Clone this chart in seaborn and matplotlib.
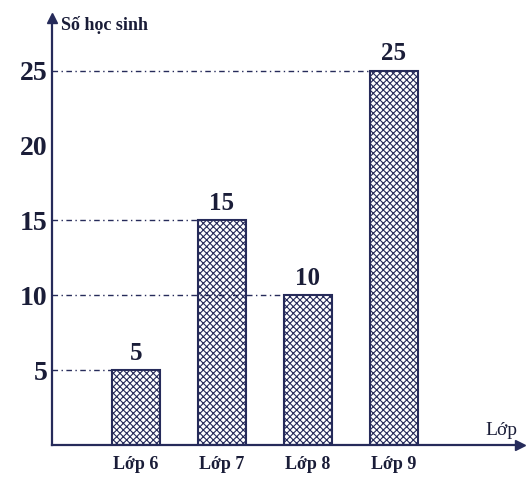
import pandas as pd
import matplotlib
matplotlib.use('Agg')
import matplotlib.pyplot as plt
import seaborn as sns

# dữ liệu
lop = ['Lớp 6', 'Lớp 7', 'Lớp 8', 'Lớp 9']
so_hoc_sinh = [5, 15, 10, 25]
y_ticks = [5, 10, 15, 20, 25]

df = pd.DataFrame({'Lop': lop, 'SoHS': so_hoc_sinh})

sns.set_style('white')
plt.rcParams['font.family'] = ['Liberation Serif', 'DejaVu Serif']
plt.rcParams['hatch.linewidth'] = 0.8

mau = '#262b5a'
chu = '#1a1d38'
bar_w = 0.55

fig = plt.figure(figsize=(5.3, 4.79), dpi=100)
ax = fig.add_axes([0.098, 0.071, 0.883, 0.891])

sns.barplot(data=df, x='Lop', y='SoHS', color='white', width=bar_w,
            edgecolor=mau, linewidth=1.5, ax=ax)
for p in ax.patches:
    p.set_hatch('xxxxx')

ax.set_xlim(-0.977, 4.465)
ax.set_ylim(0, 28.5)

# đường gióng nét chấm gạch
for i, v in enumerate(so_hoc_sinh):
    ax.hlines(v, ax.get_xlim()[0], i - bar_w / 2, colors=mau,
              linestyles=(0, (4, 2.5, 1, 2.5)), linewidth=1.0, zorder=3)
    ax.text(i, v + 0.35, str(v), ha='center', va='bottom', fontsize=18,
            fontweight='bold', color=chu)

# trục
sns.despine(ax=ax, top=True, right=True)
for s in ['left', 'bottom']:
    ax.spines[s].set_color(mau)
    ax.spines[s].set_linewidth(1.6)
ax.plot(1, 0, '>', color=mau, markersize=7, transform=ax.transAxes, clip_on=False)
ax.plot(0, 1, '^', color=mau, markersize=7, transform=ax.transAxes, clip_on=False)

ax.set_yticks(y_ticks)
ax.set_yticklabels([str(t) for t in y_ticks], fontsize=20, fontweight='bold', color=chu)
ax.tick_params(axis='y', length=0, pad=3)
ax.tick_params(axis='x', length=0, pad=8, labelsize=13, labelcolor=chu)
for t in ax.get_xticklabels():
    t.set_fontweight('bold')
ax.set_xlabel('')
ax.set_ylabel('')

ax.text(0.02, 0.985, 'Số học sinh', transform=ax.transAxes, ha='left', va='center',
        fontsize=13, fontweight='bold', color=chu)
ax.text(0.995, 0.015, 'Lớp', transform=ax.transAxes, ha='right', va='bottom',
        fontsize=14, color=chu)

fig.savefig('out.png', dpi=100)
